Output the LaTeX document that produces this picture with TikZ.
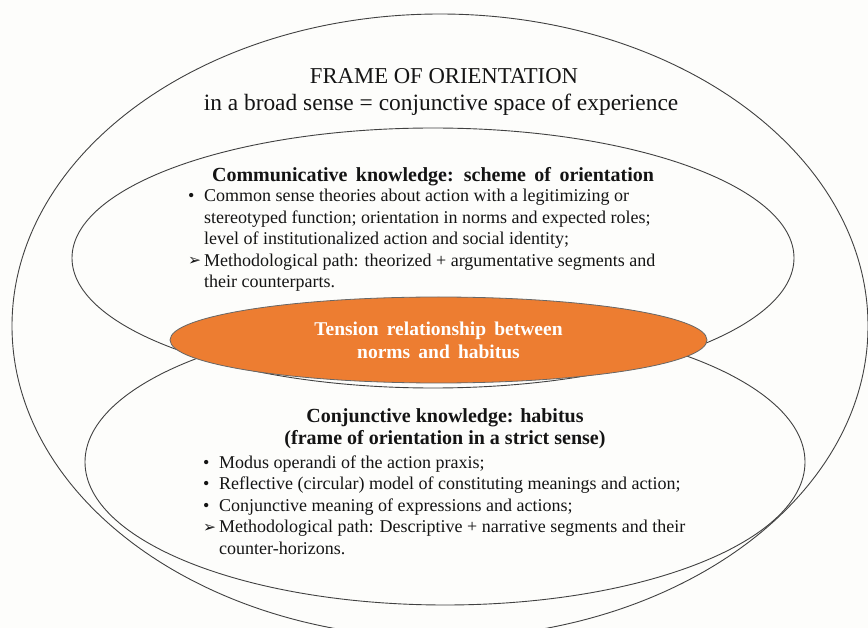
\documentclass[tikz,border=0pt]{standalone}
\usepackage{fontspec}
\setmainfont{Liberation Serif}
\newfontfamily\dingfont{DejaVu Sans}
\usepackage{xcolor}
\usepackage{tikz}
\usetikzlibrary{shapes.geometric}
\definecolor{tensionorange}{RGB}{237,125,49}
\definecolor{ringgray}{RGB}{65,65,65}
\definecolor{paperwhite}{RGB}{253,253,251}
\definecolor{darktext}{RGB}{20,20,20}

% list markers, all of one width so that the text lines up
\newcommand{\blt}{\makebox[16pt][l]{\textbullet}}
\newcommand{\arw}{\makebox[16pt][l]{\raisebox{0.5pt}{\dingfont\fontsize{15.5}{15}\selectfont ➢}}}
\newcommand{\cont}{\hspace*{16pt}}

\tikzset{
  ring/.style={draw=ringgray, line width=0.9pt},
  listtext/.style={inner sep=0pt, align=left, text=darktext,
                   font=\fontsize{18}{21.5}\selectfont},
  headtext/.style={inner sep=0pt, align=center, text=darktext,
                   font=\bfseries\fontsize{20}{22}\selectfont},
}

\begin{document}
\begin{tikzpicture}[x=1pt, y=-1pt]
  \useasboundingbox (0,0) rectangle (868,628);
  \fill[paperwhite] (0,0) rectangle (868,628);
  \clip (0,0) rectangle (868,628);

  % outer frame and the two knowledge rings
  \draw[ring] (440,326) ellipse [x radius=428, y radius=312];
  \draw[ring] (433,258) ellipse [x radius=361, y radius=130];
  \draw[ring] (445,462) ellipse [x radius=360, y radius=143];

  % title
  \node[inner sep=0pt, text=darktext, font=\fontsize{22.7}{28}\selectfont, anchor=base]
    (frame) at (444,84) {FRAME OF ORIENTATION};
  \node[inner sep=0pt, text=darktext, font=\fontsize{23.4}{28}\selectfont, anchor=base]
    (broad) at (441,111) {in a broad sense = conjunctive space of experience};

  % communicative knowledge (multi-line nodes sit on their last baseline)
  \node[headtext, execute at begin node={\spaceskip=0.42em\relax}, anchor=base]
    (commhead) at (433,182) {Communicative knowledge: scheme of orientation};
  \node[listtext, anchor=base west] (commlist) at (188,288) {%
    \blt Common sense theories about action with a legitimizing or\\
    \cont stereotyped function; orientation in norms and expected roles;\\
    \cont level of institutionalized action and social identity;\\
    \arw Methodological path: theorized + argumentative segments and\\
    \cont their counterparts.};

  % conjunctive knowledge
  \node[headtext, anchor=base] (conjhead) at (445,444)
    {Conjunctive knowledge: habitus\\(frame of orientation in a strict sense)};
  \node[listtext, anchor=base west] (conjlist) at (203,554) {%
    \blt Modus operandi of the action praxis;\\
    \blt Reflective (circular) model of constituting meanings and action;\\
    \blt Conjunctive meaning of expressions and actions;\\
    \arw Methodological path: Descriptive + narrative segments and their\\
    \cont counter-horizons.};

  % where the two meet
  \node[ellipse, fill=tensionorange, draw=ringgray!80, line width=0.8pt,
        minimum width=537pt, minimum height=86pt, inner sep=0pt,
        text=white, font=\bfseries\fontsize{19.5}{23}\selectfont,
        execute at begin node={\spaceskip=0.42em\relax}, align=center]
    (tension) at (438.5,340) {Tension relationship between\\norms and habitus};
\end{tikzpicture}
\end{document}
